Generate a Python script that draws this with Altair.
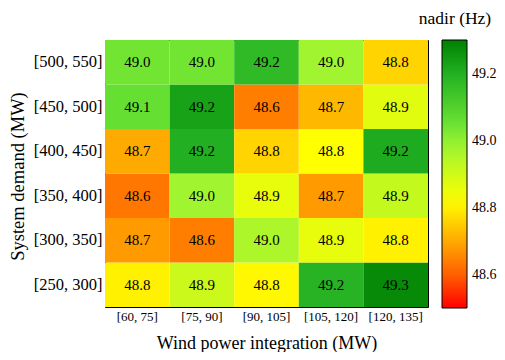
import altair as alt
import pandas as pd

wind = ["[60, 75]", "[75, 90]", "[90, 105]", "[105, 120]", "[120, 135]"]
demand = ["[250, 300]", "[300, 350]", "[350, 400]", "[400, 450]", "[450, 500]", "[500, 550]"]

# nadir (Hz) per demand row, columns follow `wind`
nadir_250_300 = [48.80, 48.91, 48.81, 49.19, 49.28]
nadir_300_350 = [48.68, 48.64, 48.96, 48.86, 48.80]
nadir_350_400 = [48.63, 48.98, 48.86, 48.68, 48.92]
nadir_400_450 = [48.70, 49.20, 48.76, 48.82, 49.21]
nadir_450_500 = [49.06, 49.23, 48.64, 48.72, 48.87]
nadir_500_550 = [49.04, 49.04, 49.17, 48.98, 48.76]

rows = [nadir_250_300, nadir_300_350, nadir_350_400, nadir_400_450, nadir_450_500, nadir_500_550]
records = []
for d, vals in zip(demand, rows):
    for w, v in zip(wind, vals):
        records.append({"wind": w, "demand": d, "nadir": v})
df = pd.DataFrame(records)

color_domain = [48.5, 48.6, 48.7, 48.82, 48.98, 49.05, 49.2, 49.3]
color_range = ["#ff0000", "#ff6000", "#ffaa00", "#ffff00", "#a0f530", "#6ae232", "#22b022", "#008000"]
legend_ticks = [48.6, 48.8, 49.0, 49.2]

serif = "Liberation Serif"

base = alt.Chart(df).encode(
    x=alt.X("wind:N", sort=wind, title="Wind power integration (MW)",
            axis=alt.Axis(labelAngle=0, ticks=False, domain=False, labelPadding=3,
                          labelFontSize=13, labelFont=serif, labelColor="black",
                          titleFont=serif, titleFontSize=18, titleFontWeight="normal",
                          titleColor="black", titleBaseline="alphabetic", titleY=41)),
    y=alt.Y("demand:N", sort=list(reversed(demand)), title="System demand (MW)",
            axis=alt.Axis(ticks=False, domain=False, labelPadding=3,
                          labelFontSize=16.5, labelFont=serif, labelColor="black",
                          titleFont=serif, titleFontSize=18.5, titleFontWeight="normal",
                          titleColor="black", titleBaseline="alphabetic",
                          titleX=-82, titleY=136, titleAngle=-90)),
)

rect = base.mark_rect().encode(
    color=alt.Color("nadir:Q",
                    scale=alt.Scale(domain=color_domain, range=color_range, interpolate="rgb"),
                    legend=alt.Legend(title=None, orient="none", legendX=337, legendY=0,
                                      direction="vertical", gradientLength=268,
                                      gradientThickness=25, gradientStrokeColor="black",
                                      gradientStrokeWidth=1, values=legend_ticks, format=".1f",
                                      labelFont=serif, labelFontSize=14, labelColor="black",
                                      labelOffset=5, padding=0))
)

text = base.mark_text(font=serif, fontSize=15, color="black").encode(
    text=alt.Text("nadir:Q", format=".1f")
)

chart = (rect + text).properties(
    width=323, height=267,
    autosize=alt.AutoSizeParams(type="none"),
    padding={"left": 97, "top": 32, "right": 69, "bottom": 45},
    title=alt.TitleParams("nadir (Hz)", anchor="end", align="center", frame="group", dx=27,
                          font=serif, fontSize=17.5, fontWeight="normal", color="black",
                          offset=13),
).configure_view(stroke="black", strokeWidth=1)

chart.save("out.html", embed_options={"renderer": "svg", "actions": False})
